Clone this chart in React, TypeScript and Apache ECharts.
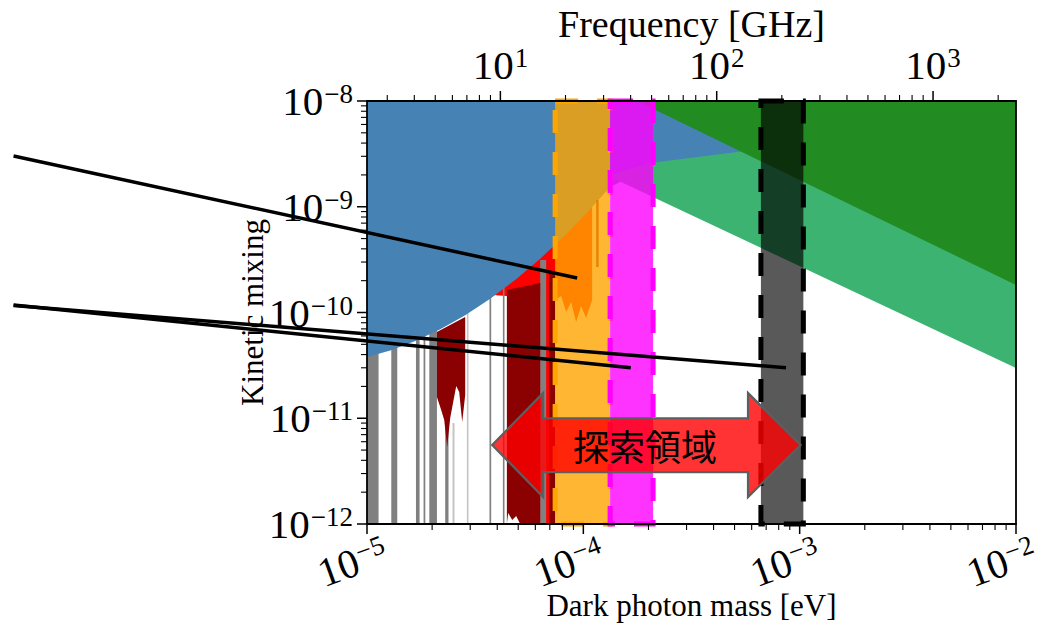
import React, { useEffect, useRef } from "react";
import * as echarts from "echarts";

const EV_TO_GHZ = 241798.93;
const SERIF = "'Liberation Serif', 'DejaVu Serif', serif";
const CJK = "'Noto Sans CJK JP', 'Noto Sans CJK SC', sans-serif";

const massMin = 1e-5;
const massMax = 1e-2;
const epsMin = 1e-12;
const epsMax = 1e-8;

const massDecades = [1e-5, 1e-4, 1e-3, 1e-2];
const epsDecades = [1e-12, 1e-11, 1e-10, 1e-9, 1e-8];
const freqDecades = [1, 10, 100, 1000];
const minorMultipliers = [2, 3, 4, 5, 6, 7, 8, 9];

// Blue excluded region (upper-left)
const blueMass = [1e-5, 1.281e-5, 1.671e-5, 2.181e-5, 2.844e-5, 3.712e-5, 4.842e-5, 6.317e-5, 8.24e-5, 1.075e-4, 1.33e-4, 1.828e-4, 3.11e-4, 5.9e-4, 5.9e-4, 1e-5];
const blueEps = [3.79e-11, 4.38e-11, 5.38e-11, 6.95e-11, 9.43e-11, 1.351e-10, 2.033e-10, 3.226e-10, 5.38e-10, 9.46e-10, 1.538e-9, 2.13e-9, 2.65e-9, 2.95e-9, 1e-8, 1e-8];

// Medium green region
const seaGreenMass = [1.303e-4, 2.035e-4, 5.59e-4, 1e-2, 1e-2];
const seaGreenEps = [1.954e-9, 2.59e-9, 3.37e-9, 6.61e-9, 2.985e-11];

// Dark green region
const forestMass = [1.772e-4, 1e-2, 1e-2];
const forestEps = [1e-8, 1e-8, 1.82e-10];

// Red region
const redMass = [3.832e-5, 4.398e-5, 6.317e-5, 6.317e-5, 7.407e-5, 7.407e-5, 7.9e-5, 8.33e-5, 8.78e-5, 9.26e-5, 9.77e-5, 1.03e-4, 1.098e-4, 1.098e-4, 6.317e-5, 3.832e-5];
const redEps = [1.464e-10, 1.432e-10, 1.432e-10, 1e-12, 1e-12, 1.313e-10, 1.432e-10, 1.011e-10, 1.257e-10, 8.13e-11, 1.152e-10, 8.87e-11, 1.313e-10, 1.038e-9, 6.03e-10, 1.82e-10];

// Dark red regions
const darkRedAMass = [2.105e-5, 2.844e-5, 2.844e-5, 2.755e-5, 2.668e-5, 2.585e-5, 2.503e-5, 2.424e-5, 2.348e-5, 2.275e-5, 2.203e-5, 2.105e-5];
const darkRedAEps = [6.54e-11, 9.07e-11, 1.659e-11, 9.21e-12, 1.771e-11, 2.018e-11, 1.425e-11, 1.006e-11, 5.35e-12, 9.63e-12, 1.197e-11, 1.589e-11];
const darkRedBMass = [4.432e-5, 6.317e-5, 6.317e-5, 5.105e-5, 4.893e-5, 4.69e-5, 4.494e-5, 4.432e-5];
const darkRedBEps = [1.632e-10, 1.901e-10, 1e-12, 1e-12, 1.19e-12, 1.09e-12, 1.27e-12, 1e-12];
const darkRedCMass = [6.95e-5, 7.407e-5, 7.407e-5, 6.95e-5];
const darkRedCEps = [2.363e-10, 2.363e-10, 1e-12, 1e-12];
const darkRedDMass = [1.146e-4, 1.177e-4, 1.177e-4, 1.146e-4];
const darkRedDEps = [1.159e-9, 1.159e-9, 2.693e-10, 2.693e-10];

// Narrow vertical exclusion lines
const grayLeft = [1.0e-5, 1.295e-5, 1.684e-5, 1.826e-5, 1.941e-5, 2.299e-5, 3.683e-5, 4.248e-5, 6.317e-5];
const grayRight = [1.131e-5, 1.38e-5, 1.75e-5, 1.86e-5, 2.105e-5, 2.381e-5, 3.75e-5, 4.321e-5, 6.733e-5];
const grayTop = [1e-9, 1e-9, 1e-9, 1e-9, 1e-9, 8.3e-12, 1e-9, 1e-9, 3.14e-10];
const lightLeft = [2.485e-5, 2.895e-5];
const lightRight = [2.538e-5, 2.945e-5];
const lightTop = [9.0e-12, 1e-9];

// Planned search bands (mass, eV)
const orangeBand = [7.407e-5, 1.33e-4];
const magentaBand = [1.33e-4, 2.101e-4];
const blackBand = [6.62e-4, 1.04e-3];

// Annotation lines (mass, eps) start -> end
const lineStartMass = [2.324e-7, 2.324e-7, 2.324e-7];
const lineStartEps = [3.019e-9, 1.165e-10, 1.177e-10];
const lineEndMass = [9.363e-5, 8.645e-4, 1.657e-4];
const lineEndEps = [2.12e-10, 3.006e-11, 3.006e-11];

// Search-range arrow
const arrowMass = [3.79e-5, 6.52e-5, 5.77e-4, 1.01e-3]; // left tip, left head base, right head base, right tip
const arrowEps = [1.733e-11, 1.0e-11, 5.58e-12, 3.1e-12, 1.8e-12]; // head top, shaft top, centre, shaft bottom, head bottom
const arrowLabel = "探索領域";
const arrowLabelMass = 1.93e-4;

const buildTicks = (decades: number[], lo: number, hi: number) => {
  const out: { v: number; major: boolean }[] = [];
  decades.forEach((d) => {
    if (d >= lo * 0.999 && d <= hi * 1.001) out.push({ v: d, major: true });
    minorMultipliers.forEach((k) => {
      const v = d * k;
      if (v > lo && v < hi) out.push({ v, major: false });
    });
  });
  return out;
};

const massTicks = buildTicks(massDecades, massMin, massMax);
const epsTicks = buildTicks(epsDecades, epsMin, epsMax);
const freqTicks = buildTicks(freqDecades, massMin * EV_TO_GHZ, massMax * EV_TO_GHZ);

const powLabel = (v: number) => {
  const l = Math.log10(v);
  const e = Math.round(l);
  if (Math.abs(l - e) > 1e-6) return "";
  return `{b|10}{s|${e < 0 ? "\u2212" : ""}${Math.abs(e)}}`;
};

const rich = {
  b: { fontFamily: SERIF, fontSize: 41, lineHeight: 41, color: "#000", verticalAlign: "bottom" },
  s: { fontFamily: SERIF, fontSize: 27, lineHeight: 27, color: "#000", verticalAlign: "top", padding: [0, 0, 19, 1] },
};

const base = (name: string, z: number, clip: boolean, renderItem: any) => ({
  type: "custom",
  name,
  z,
  clip,
  silent: true,
  coordinateSystem: "cartesian2d",
  xAxisIndex: 0,
  yAxisIndex: 0,
  data: [[1e-4, 1e-10]],
  renderItem,
});

const polys = (list: [number[], number[]][], fill: string) => (_p: any, api: any) => ({
  type: "group",
  children: list.map(([ms, es]) => ({
    type: "polygon",
    shape: { points: ms.map((m, i) => api.coord([m, es[i]])) },
    style: { fill },
  })),
});

const stripes = (ls: number[], rs: number[], tops: number[], fill: string) => (_p: any, api: any) => ({
  type: "group",
  children: ls.map((l, i) => {
    const a = api.coord([l, tops[i]]);
    const b = api.coord([rs[i], epsMin]);
    return { type: "rect", shape: { x: a[0], y: a[1], width: b[0] - a[0], height: b[1] - a[1] }, style: { fill } };
  }),
});

const band = (range: number[], fill: string, stroke: string) => (_p: any, api: any) => {
  const a = api.coord([range[0], epsMax]);
  const b = api.coord([range[1], epsMin]);
  return {
    type: "rect",
    shape: { x: a[0], y: a[1], width: b[0] - a[0], height: b[1] - a[1] },
    style: { fill, stroke, lineWidth: 5, lineDash: [23, 19] },
  };
};

const linesRender = (_p: any, api: any) => ({
  type: "group",
  children: lineStartMass.map((m, i) => {
    const a = api.coord([m, lineStartEps[i]]);
    const b = api.coord([lineEndMass[i], lineEndEps[i]]);
    return { type: "line", shape: { x1: a[0], y1: a[1], x2: b[0], y2: b[1] }, style: { stroke: "#000", lineWidth: 3.5 } };
  }),
});

const arrowRender = (_p: any, api: any) => {
  const [tl, bl, br, tr] = arrowMass;
  const [ht, st, c, sb, hb] = arrowEps;
  const pts = [
    [tl, c], [bl, ht], [bl, st], [br, st], [br, ht], [tr, c], [br, hb], [br, sb], [bl, sb], [bl, hb],
  ].map((p) => api.coord(p));
  const centre = api.coord([arrowLabelMass, c]);
  return {
    type: "group",
    children: [
      { type: "polygon", shape: { points: pts }, style: { fill: "rgba(255,0,0,0.8)", stroke: "#5e5e5e", lineWidth: 2.2 } },
      {
        type: "text",
        x: centre[0],
        y: centre[1],
        style: { text: arrowLabel, fill: "#000", font: `36px ${CJK}`, fontSize: 36, fontFamily: CJK, align: "center", verticalAlign: "middle", textAlign: "center", textVerticalAlign: "middle" },
      },
    ],
  };
};

const ticksRender = (_p: any, api: any) => {
  const children: any[] = [];
  const [xL, yB] = api.coord([massMin, epsMin]);
  const yT = api.coord([massMax, epsMax])[1];
  const L = (x1: number, y1: number, x2: number, y2: number, w: number) => ({
    type: "line",
    shape: { x1, y1, x2, y2 },
    style: { stroke: "#000", lineWidth: w },
  });
  massTicks.forEach((t) => {
    const x = api.coord([t.v, epsMin])[0];
    children.push(L(x, yB, x, yB + (t.major ? 10 : 6), t.major ? 1.5 : 1.1));
  });
  freqTicks.forEach((t) => {
    const x = api.coord([t.v / EV_TO_GHZ, epsMax])[0];
    children.push(L(x, yT, x, yT - (t.major ? 10 : 6), t.major ? 1.5 : 1.1));
  });
  epsTicks.forEach((t) => {
    const y = api.coord([massMin, t.v])[1];
    children.push(L(xL, y, xL - (t.major ? 10 : 6), y, t.major ? 1.5 : 1.1));
  });
  return { type: "group", children };
};

const axisLine = { show: true, lineStyle: { color: "#000", width: 1.8 } };

export default function App() {
  const ref = useRef<HTMLDivElement>(null);
  useEffect(() => {
    if (!ref.current) return;
    const chart = echarts.init(ref.current, null, { renderer: "svg" });
    chart.setOption({
      animation: false,
      backgroundColor: "#fff",
      grid: { left: 367, top: 101, width: 649, height: 423, outerBoundsMode: "none", containLabel: false },
      xAxis: [
        {
          type: "log",
          logBase: 10,
          min: massMin,
          max: massMax,
          position: "bottom",
          z: 10,
          axisLine,
          axisTick: { show: false },
          splitLine: { show: false },
          axisLabel: { formatter: powLabel, rich, rotate: 20, align: "center", verticalAlign: "top", margin: 11, padding: [0, 46, 0, 0] },
          name: "Dark photon mass [eV]",
          nameLocation: "middle",
          nameGap: 66,
          nameMoveOverlap: false,
          nameTextStyle: { fontFamily: SERIF, fontSize: 31, color: "#000" },
        },
        {
          type: "log",
          logBase: 10,
          min: massMin * EV_TO_GHZ,
          max: massMax * EV_TO_GHZ,
          position: "top",
          z: 10,
          axisLine,
          axisTick: { show: false },
          splitLine: { show: false },
          axisLabel: { formatter: powLabel, rich, margin: 16 },
          name: "Frequency [GHz]",
          nameLocation: "middle",
          nameGap: 58,
          nameMoveOverlap: false,
          nameTextStyle: { fontFamily: SERIF, fontSize: 38, color: "#000" },
        },
      ],
      yAxis: [
        {
          type: "log",
          logBase: 10,
          min: epsMin,
          max: epsMax,
          position: "left",
          z: 10,
          axisLine,
          axisTick: { show: false },
          splitLine: { show: false },
          axisLabel: { formatter: powLabel, rich, margin: 14 },
          name: "Kinetic mixing",
          nameLocation: "middle",
          nameGap: 99,
          nameRotate: 90,
          nameMoveOverlap: false,
          nameTextStyle: { fontFamily: SERIF, fontSize: 31, color: "#000" },
        },
        {
          type: "log",
          logBase: 10,
          min: epsMin,
          max: epsMax,
          position: "right",
          z: 10,
          axisLine,
          axisTick: { show: false },
          axisLabel: { show: false },
          splitLine: { show: false },
        },
      ],
      series: [
        base("red", 2, true, polys([[redMass, redEps]], "#FF0000")),
        base("gray", 2, true, stripes(grayLeft, grayRight, grayTop, "#808080")),
        base("lightgray", 2, true, stripes(lightLeft, lightRight, lightTop, "#C4C4C4")),
        base("darkred", 2, true, polys([[darkRedAMass, darkRedAEps], [darkRedBMass, darkRedBEps], [darkRedCMass, darkRedCEps]], "#8B0000")),
        base("blue", 2, true, polys([[blueMass, blueEps]], "#4682B4")),
        base("darkred2", 2, true, polys([[darkRedDMass, darkRedDEps]], "#8B0000")),
        base("seagreen", 2, true, polys([[seaGreenMass, seaGreenEps]], "#3CB371")),
        base("forest", 2, true, polys([[forestMass, forestEps]], "#228B22")),
        base("orangeBand", 3, false, band(orangeBand, "rgba(255,165,0,0.8)", "#FFA500")),
        base("magentaBand", 3, false, band(magentaBand, "rgba(255,0,255,0.8)", "#FF00FF")),
        base("blackBand", 3, false, band(blackBand, "rgba(0,0,0,0.65)", "#000000")),
        base("lines", 20, false, linesRender),
        base("arrow", 20, false, arrowRender),
        base("ticks", 20, false, ticksRender),
      ],
    });
    return () => chart.dispose();
  }, []);
  return <div ref={ref} style={{ position: "fixed", left: 0, top: 0, width: "1047px", height: "624px" }} />;
}
